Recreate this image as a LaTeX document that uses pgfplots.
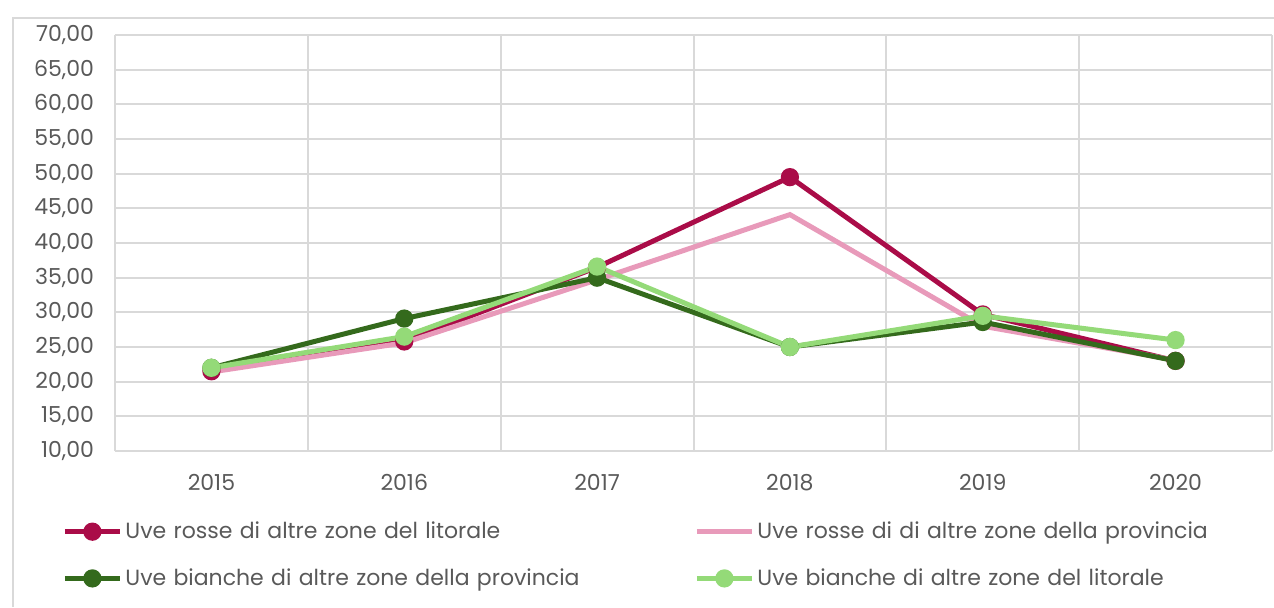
\documentclass[border=0pt]{standalone}
\usepackage{fontspec}
\setmainfont{Poppins}
\usepackage{pgfplots}
\pgfplotsset{compat=1.18}
\definecolor{cRed}{RGB}{170,12,72}
\definecolor{cPink}{RGB}{232,154,186}
\definecolor{cDark}{RGB}{52,106,28}
\definecolor{cLight}{RGB}{148,218,120}
\definecolor{cGrid}{RGB}{217,217,217}
\definecolor{cText}{RGB}{89,89,89}
\begin{document}
\begin{tikzpicture}
\useasboundingbox (0,0) rectangle (637pt,303.5pt);
\draw[cGrid, line width=1pt] (6.5pt,0) -- (6.5pt,294.5pt) -- (640pt,294.5pt);
\begin{axis}[
  at={(57.5pt,78pt)}, anchor=south west,
  scale only axis, width=578.5pt, height=208pt,
  xmin=-0.5, xmax=5.5, ymin=10, ymax=70,
  xtick={0,1,2,3,4,5},
  xticklabels={2015,2016,2017,2018,2019,2020},
  minor xtick={-0.5,0.5,1.5,2.5,3.5,4.5,5.5},
  ytick={10,15,...,70},
  major tick length=0pt, minor tick length=0pt,
  xmajorgrids=false, xminorgrids=true, ymajorgrids=true,
  grid style={cGrid, line width=1pt},
  minor grid style={cGrid, line width=1pt},
  axis line style={draw=none},
  ticklabel style={font=\fontsize{11}{13}\selectfont, text=cText},
  yticklabel style={xshift=-7pt},
  xticklabel style={yshift=-8pt},
  yticklabel={\pgfmathprintnumber[fixed,fixed zerofill,precision=2,use comma]{\tick}},
  /pgf/number format/assume math mode=true,
  clip=false,
  legend columns=2,
  legend cell align=left,
  legend style={draw=none, fill=none, anchor=north west,
    at={(axis description cs:-0.051,-0.15)},
    font=\fontsize{11}{13}\selectfont, text=cText,
    nodes={text width=283pt, inner xsep=1.5pt, align=left},
    /tikz/every odd column/.append style={column sep=0pt},
    row sep=9.5pt},
  legend image code/.code={
    \draw[mark repeat=2,mark phase=2,#1] plot coordinates {(0pt,0pt)(13.75pt,0pt)(27.5pt,0pt)};
  },
]
\addplot[cRed, line width=2.5pt, mark=*, mark size=3.3pt, mark options={solid}] coordinates {
 (0,21.5) (1,25.8) (2,36.5) (3,49.5) (4,29.7) (5,23.0)};
\addlegendentry{Uve rosse di altre zone del litorale}
\addplot[cPink, line width=2.5pt] coordinates {
 (0,21.4) (1,25.6) (2,34.7) (3,44.1) (4,28.0) (5,23.1)};
\addlegendentry{Uve rosse di di altre zone della provincia}
\addplot[cDark, line width=2.5pt, mark=*, mark size=3.3pt] coordinates {
 (0,22.0) (1,29.1) (2,35.0) (3,25.0) (4,28.6) (5,23.0)};
\addlegendentry{Uve bianche di altre zone della provincia}
\addplot[cLight, line width=2.5pt, mark=*, mark size=3.3pt] coordinates {
 (0,22.0) (1,26.5) (2,36.6) (3,25.0) (4,29.5) (5,26.0)};
\addlegendentry{Uve bianche di altre zone del litorale}
\end{axis}
\end{tikzpicture}
\end{document}
